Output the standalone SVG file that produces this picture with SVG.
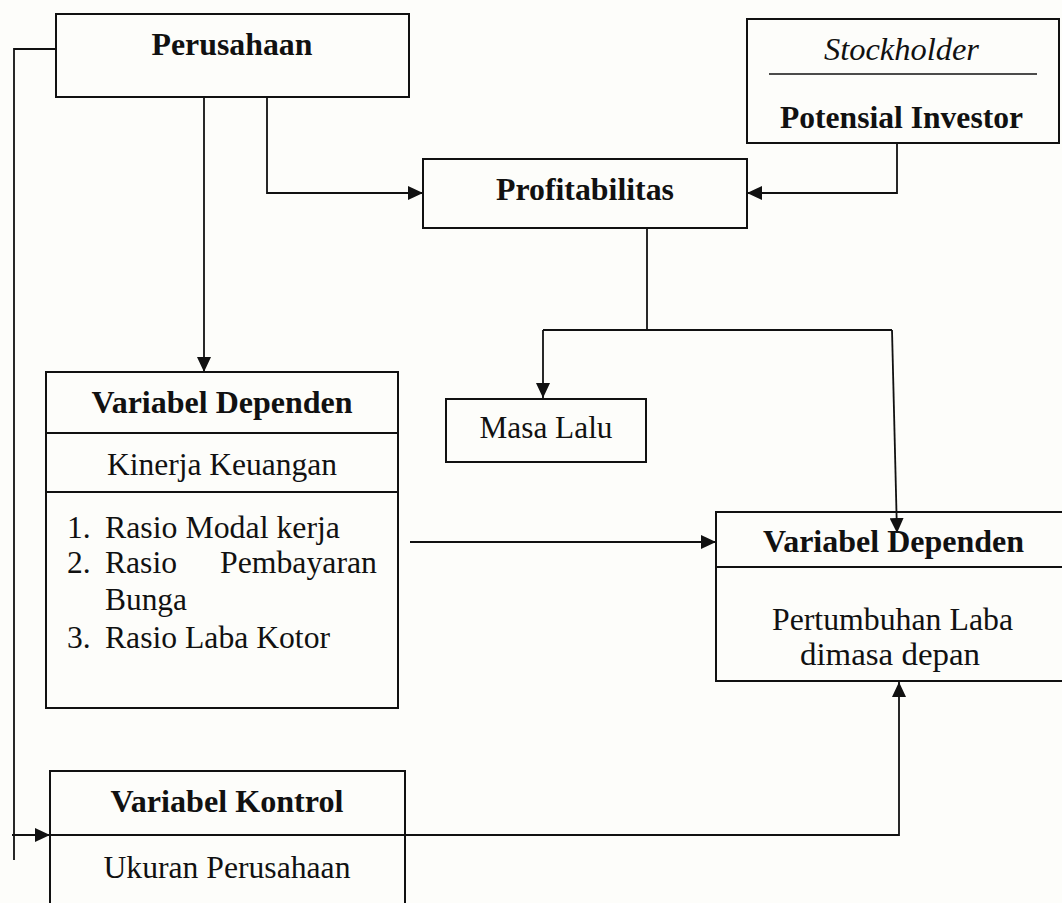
<svg xmlns="http://www.w3.org/2000/svg" width="1062" height="903" viewBox="0 0 1062 903" font-family="Liberation Serif, serif">
<style>
.box{fill:none;stroke:#111;stroke-width:2}
.sep{stroke:#111;stroke-width:2}
.con{fill:none;stroke:#111;stroke-width:1.8}
.t{font-family:'Liberation Serif',serif;font-size:31.5px;fill:#111}
.b{font-weight:bold}
.i{font-style:italic}
.c{text-anchor:middle}
</style>
<defs>
<marker id="ah" markerUnits="userSpaceOnUse" viewBox="0 0 15 14" refX="15" refY="7" markerWidth="15" markerHeight="14" orient="auto">
<path d="M0,0 L15,7 L0,14 z" fill="#111"/>
</marker>
</defs>
<rect width="1062" height="903" fill="#fdfdfa"/>
<g id="connectors">
<path class="con" d="M56,49 H14 V860"/>
<path class="con" d="M12,835 H50" marker-end="url(#ah)"/>
<path class="con" d="M204,97 V372" marker-end="url(#ah)"/>
<path class="con" d="M267,97 V193 H423" marker-end="url(#ah)"/>
<path class="con" d="M897,143 V193 H747" marker-end="url(#ah)"/>
<path class="con" d="M647,228 V330"/>
<path class="con" d="M543,330 H892"/>
<path class="con" d="M543,330 V398" marker-end="url(#ah)"/>
<path class="con" d="M892,330 L897,533" marker-end="url(#ah)"/>
<path class="con" d="M410,542 H716" marker-end="url(#ah)"/>
<path class="con" d="M405,835 H899 V682" marker-end="url(#ah)"/>
</g>
<g id="perusahaan">
<rect class="box" x="56" y="14" width="353" height="83"/>
<text class="t b c" x="232" y="55" textLength="161" lengthAdjust="spacingAndGlyphs">Perusahaan</text>
</g>
<g id="stockholder">
<rect class="box" x="747" y="19" width="312" height="124"/>
<text class="t i c" x="901.5" y="60" textLength="155" lengthAdjust="spacingAndGlyphs">Stockholder</text>
<line class="sep" x1="769" y1="74" x2="1037" y2="74" style="stroke-width:1.6"/>
<text class="t b c" x="901.5" y="128" textLength="243" lengthAdjust="spacingAndGlyphs">Potensial Investor</text>
</g>
<g id="profitabilitas">
<rect class="box" x="423" y="159" width="324" height="69"/>
<text class="t b c" x="585" y="200" textLength="178" lengthAdjust="spacingAndGlyphs">Profitabilitas</text>
</g>
<g id="masa-lalu">
<rect class="box" x="446" y="399" width="200" height="63"/>
<text class="t c" x="546" y="438" textLength="133" lengthAdjust="spacingAndGlyphs">Masa Lalu</text>
</g>
<g id="variabel-dependen-kinerja">
<rect class="box" x="46" y="372" width="352" height="336"/>
<line class="sep" x1="46" y1="433" x2="398" y2="433"/>
<line class="sep" x1="46" y1="492" x2="398" y2="492"/>
<text class="t b c" x="222" y="413" textLength="261" lengthAdjust="spacingAndGlyphs">Variabel Dependen</text>
<text class="t c" x="222" y="475" textLength="230" lengthAdjust="spacingAndGlyphs">Kinerja Keuangan</text>
<text class="t" x="67" y="538">1.</text>
<text class="t" x="105" y="538" textLength="235" lengthAdjust="spacingAndGlyphs">Rasio Modal kerja</text>
<text class="t" x="67" y="573">2.</text>
<text class="t" x="105" y="573" textLength="72" lengthAdjust="spacingAndGlyphs">Rasio</text>
<text class="t" x="220" y="573" textLength="157" lengthAdjust="spacingAndGlyphs">Pembayaran</text>
<text class="t" x="105" y="610" textLength="82" lengthAdjust="spacingAndGlyphs">Bunga</text>
<text class="t" x="67" y="648">3.</text>
<text class="t" x="105" y="648" textLength="225" lengthAdjust="spacingAndGlyphs">Rasio Laba Kotor</text>
</g>
<g id="variabel-dependen-laba">
<rect class="box" x="716" y="512" width="356" height="169"/>
<line class="sep" x1="716" y1="567" x2="1072" y2="567"/>
<text class="t b c" x="893.5" y="552" textLength="261" lengthAdjust="spacingAndGlyphs">Variabel Dependen</text>
<text class="t c" x="892.5" y="630" textLength="241" lengthAdjust="spacingAndGlyphs">Pertumbuhan Laba</text>
<text class="t c" x="890" y="665" textLength="180" lengthAdjust="spacingAndGlyphs">dimasa depan</text>
</g>
<g id="variabel-kontrol">
<rect class="box" x="50" y="771" width="355" height="150"/>
<line class="sep" x1="50" y1="835" x2="405" y2="835"/>
<text class="t b c" x="227" y="812" textLength="233" lengthAdjust="spacingAndGlyphs">Variabel Kontrol</text>
<text class="t c" x="227" y="878" textLength="247" lengthAdjust="spacingAndGlyphs">Ukuran Perusahaan</text>
</g>
</svg>
